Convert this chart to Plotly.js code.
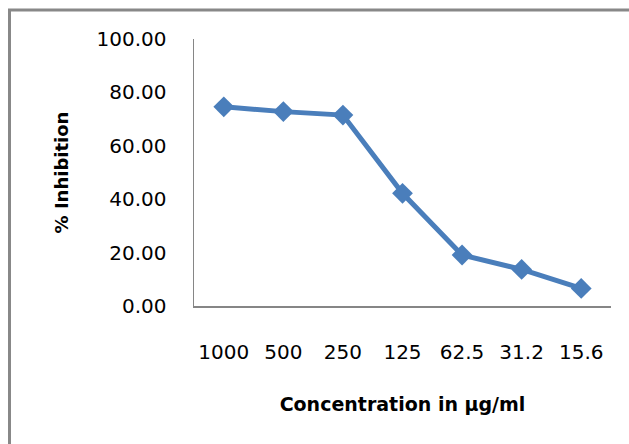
<!DOCTYPE html>
<html>
<head>
<meta charset="utf-8">
<script src="https://cdn.plot.ly/plotly-3.0.1.min.js"></script>
<style>
  html, body { margin: 0; padding: 0; background: #ffffff; }
  #chart { width: 629px; height: 444px; }
</style>
</head>
<body>
<div id="chart"></div>
<script>
// Concentration levels (µg/ml), shown as evenly spaced categories
const concentrations = ['1000', '500', '250', '125', '62.5', '31.2', '15.6'];
// Percent inhibition at each concentration
const inhibition = [74.6, 72.8, 71.5, 42.2, 19.1, 13.7, 6.6];
// Y axis tick values
const yTicks = [0, 20, 40, 60, 80, 100];

const blue = '#4a7ebb';
const axisGrey = '#868686';
const fontFamily = '"DejaVu Sans", sans-serif';

const trace = {
  type: 'scatter',
  mode: 'lines+markers',
  x: concentrations,
  y: inhibition,
  line: { color: blue, width: 5 },
  marker: { symbol: 'diamond', size: 16, color: blue },
  cliponaxis: false,
  hoverinfo: 'x+y'
};

// outer frame of the chart area, in pixel terms converted to paper units
const L = 194, R = 18, T = 39, B = 138, W = 629, H = 444;
const pw = W - L - R, ph = H - T - B;
const px = v => (v - L) / pw;
const py = v => (H - B - v) / ph;

const layout = {
  width: W,
  height: H,
  margin: { l: L, r: R, t: T, b: B, pad: 0 },
  paper_bgcolor: '#ffffff',
  plot_bgcolor: '#ffffff',
  showlegend: false,
  font: { family: fontFamily, color: '#000000', size: 20 },
  xaxis: {
    type: 'category',
    range: [-0.5, concentrations.length - 0.5],
    showgrid: false,
    zeroline: false,
    showline: true,
    linecolor: axisGrey,
    linewidth: 1.5,
    ticks: '',
    ticklabelstandoff: 27,
    tickfont: { size: 20, family: fontFamily },
    title: {
      text: '<b>Concentration in µg/ml</b>',
      font: { size: 19, family: fontFamily },
      standoff: 35
    },
    automargin: false,
    fixedrange: true
  },
  yaxis: {
    range: [0, 100],
    tickvals: yTicks,
    tickformat: '.2f',
    showgrid: false,
    zeroline: false,
    showline: true,
    linecolor: axisGrey,
    linewidth: 1.5,
    ticks: '',
    ticklabelstandoff: 22,
    tickfont: { size: 20, family: fontFamily },
    title: {
      text: '<b>% Inhibition</b>',
      font: { size: 18, family: fontFamily },
      standoff: 23
    },
    automargin: false,
    fixedrange: true
  },
  shapes: [
    {
      type: 'path',
      xref: 'paper', yref: 'paper',
      path: `M ${px(9.5)} ${py(470)} L ${px(9.5)} ${py(10)} L ${px(660)} ${py(10)}`,
      line: { color: '#888888', width: 3 },
      layer: 'above'
    }
  ]
};

Plotly.newPlot('chart', [trace], layout, { staticPlot: true, displayModeBar: false });
</script>
</body>
</html>
